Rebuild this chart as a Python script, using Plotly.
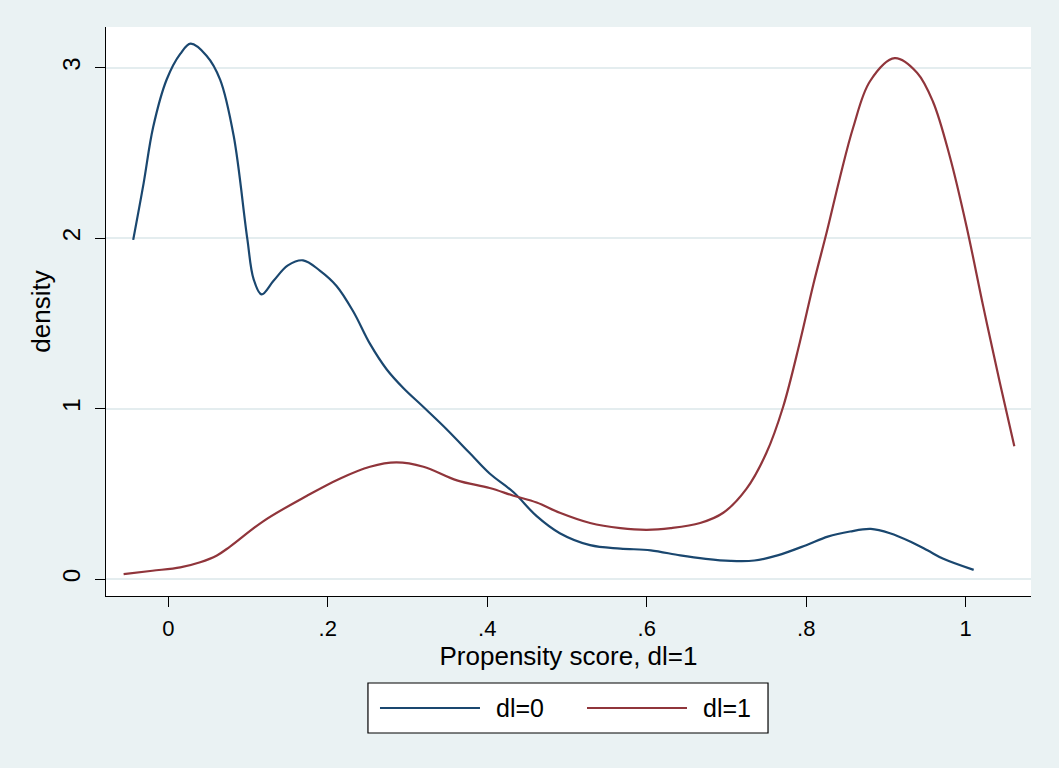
import plotly.graph_objects as go

# ---- data ----
x_dl0 = [-0.044, -0.031, -0.019, -0.002, 0.015, 0.028, 0.048, 0.065, 0.082, 0.099,
         0.107, 0.117, 0.132, 0.150, 0.169, 0.190, 0.211, 0.232, 0.253, 0.274,
         0.295, 0.320, 0.349, 0.378, 0.403, 0.433, 0.462, 0.491, 0.529, 0.567,
         0.605, 0.642, 0.674, 0.705, 0.735, 0.764, 0.800, 0.827, 0.855, 0.881,
         0.905, 0.931, 0.952, 0.972, 1.010]
y_dl0 = [1.99, 2.32, 2.65, 2.93, 3.08, 3.14, 3.07, 2.93, 2.60, 2.00,
         1.76, 1.67, 1.75, 1.84, 1.87, 1.81, 1.72, 1.57, 1.38, 1.23,
         1.12, 1.01, 0.88, 0.74, 0.62, 0.51, 0.37, 0.27, 0.20, 0.18,
         0.17, 0.14, 0.12, 0.108, 0.11, 0.14, 0.20, 0.25, 0.28, 0.295,
         0.27, 0.22, 0.17, 0.12, 0.055]

x_dl1 = [-0.056, -0.020, 0.015, 0.040, 0.061, 0.077, 0.119, 0.174, 0.215, 0.253,
         0.286, 0.320, 0.362, 0.403, 0.433, 0.462, 0.491, 0.529, 0.567, 0.600,
         0.630, 0.667, 0.696, 0.725, 0.750, 0.771, 0.792, 0.809, 0.826, 0.842,
         0.859, 0.880, 0.911, 0.939, 0.959, 0.980, 1.001, 1.022, 1.043, 1.061]
y_dl1 = [0.03, 0.05, 0.07, 0.10, 0.14, 0.19, 0.34, 0.49, 0.59, 0.66,
         0.685, 0.66, 0.58, 0.535, 0.49, 0.45, 0.39, 0.33, 0.30, 0.29,
         0.30, 0.33, 0.39, 0.53, 0.74, 1.01, 1.39, 1.73, 2.04, 2.35,
         2.65, 2.92, 3.055, 2.97, 2.80, 2.48, 2.07, 1.60, 1.15, 0.78]

x_tickvals = [0, 0.2, 0.4, 0.6, 0.8, 1]
x_ticktext = ["0", ".2", ".4", ".6", ".8", "1"]
y_tickvals = [0, 1, 2, 3]
y_ticktext = ["0", "1", "2", "3"]

series_names = ["dl=0", "dl=1"]
series_colors = ["#1A476F", "#90353B"]

FONT = "Liberation Sans, Arial, Helvetica, sans-serif"
BG = "#EAF2F3"

fig = go.Figure()
for xs, ys, name, col in [(x_dl0, y_dl0, series_names[0], series_colors[0]),
                          (x_dl1, y_dl1, series_names[1], series_colors[1])]:
    fig.add_trace(go.Scatter(x=xs, y=ys, mode="lines", name=name,
                             line=dict(color=col, width=2.2, shape="spline", smoothing=1.0),
                             showlegend=False))

# custom Stata-like legend (paper coordinates)
fig.add_shape(type="rect", xref="paper", yref="paper",
              x0=0.2832, x1=0.7157, y0=-0.2408, y1=-0.1529,
              line=dict(color="black", width=1.2), fillcolor="white", layer="above")
leg = [(0.2962, 0.4043, 0.4216), (0.5200, 0.6281, 0.6454)]
for (lx0, lx1, tx), name, col in zip(leg, series_names, series_colors):
    fig.add_shape(type="line", xref="paper", yref="paper",
                  x0=lx0, x1=lx1, y0=-0.1968, y1=-0.1968,
                  line=dict(color=col, width=2.2), layer="above")
    fig.add_annotation(xref="paper", yref="paper", x=tx, y=-0.1968,
                       text=name, showarrow=False, xanchor="left", yanchor="middle",
                       xshift=-2,
                       font=dict(size=25, color="black", family=FONT))

fig.update_layout(
    width=1059, height=768,
    margin=dict(l=106, r=28, t=27, b=172),
    paper_bgcolor=BG, plot_bgcolor="white",
    font=dict(family=FONT, color="black"),
    showlegend=False,
)
fig.update_xaxes(range=[-0.0781, 1.0819], tickvals=x_tickvals, ticktext=x_ticktext,
                 showgrid=False, zeroline=False, showline=True, linecolor="black",
                 linewidth=1.3, ticks="outside", ticklen=10, tickwidth=1.3,
                 tickcolor="black", tickfont=dict(size=22), ticklabelstandoff=2,
                 title=dict(text="Propensity score, dl=1", font=dict(size=26), standoff=2))
fig.update_yaxes(range=[-0.098, 3.238], tickvals=y_tickvals, ticktext=y_ticktext,
                 showgrid=True, gridcolor="#E4EDEF", gridwidth=1.5,
                 zeroline=False, showline=True, linecolor="black",
                 linewidth=1.3, ticks="outside", ticklen=10, tickwidth=1.3,
                 tickcolor="black", tickfont=dict(size=24), tickangle=-90,
                 ticklabelstandoff=5,
                 title=dict(text="density", font=dict(size=26), standoff=0))

fig.write_html("out.html", config={"displayModeBar": False},
               post_script="document.body.style.margin='0';document.body.style.background='#EAF2F3';")
